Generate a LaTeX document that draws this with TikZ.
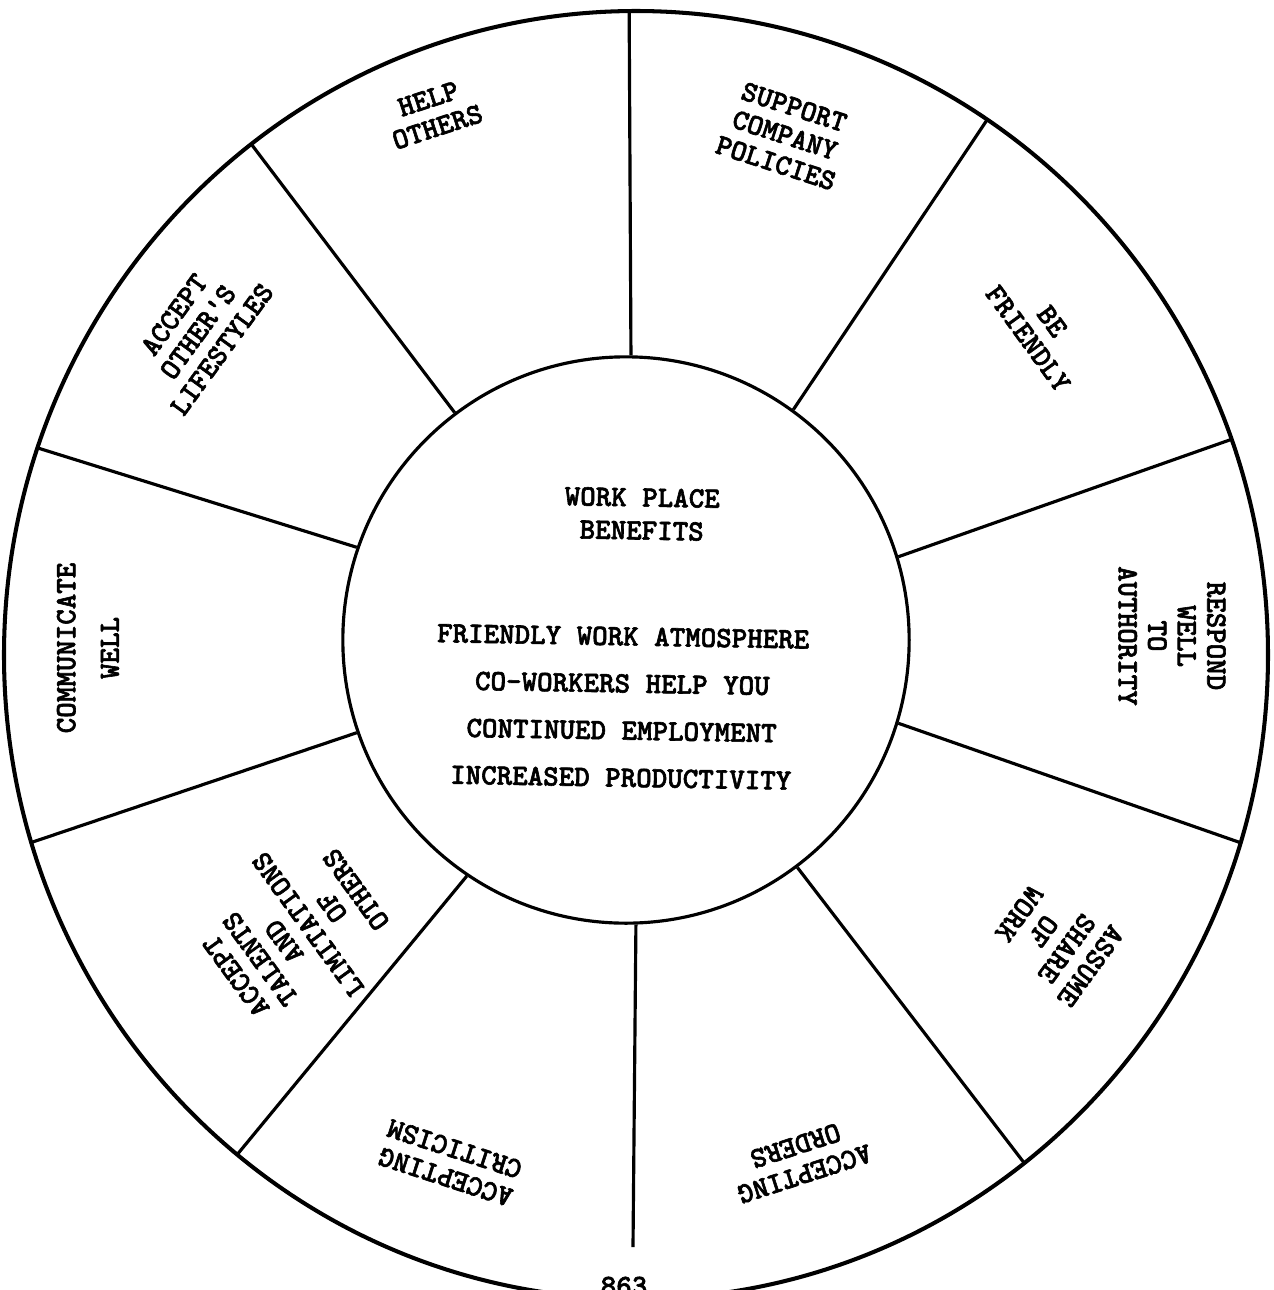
\documentclass[tikz,border=0pt]{standalone}
\usepackage{fontspec}
\newfontfamily\tw{lmmonolt10-bold.otf}[FakeBold=2]
\tikzset{
  rim/.style={line width=1.15pt},
  spoke/.style={line width=0.9pt},
  hub/.style={circle, draw, line width=0.9pt, minimum size=5.66cm, inner sep=0pt},
  lbl/.style={font=\tw\fontsize{8.4}{8.4}\selectfont, align=center, inner sep=0pt},
  headtxt/.style={font=\tw\fontsize{8.4}{9.4}\selectfont, align=center, inner sep=0pt},
  bentxt/.style={font=\tw\fontsize{8.4}{13.4}\selectfont, align=center, inner sep=0pt},
}
\begin{document}
\begin{tikzpicture}[x=0.01cm,y=-0.01cm]
\useasboundingbox (0,0) rectangle (1274,1290);
\clip (0,0) rectangle (1274,1290);

% outer rim of the wheel
\draw[rim] (636,655) ellipse [x radius=632, y radius=644];

% hub
\node[hub] (hub) at (626,640) {};

% far ends of the spokes (cut off by the rim)
\coordinate (o1) at (629,-20);
\coordinate (o2) at (997,105);
\coordinate (o3) at (1258,430);
\coordinate (o4) at (1270,853);
\coordinate (o5) at (1048,1194);
\coordinate (o6) at (633,1247);
\coordinate (o7) at (222,1173);
\coordinate (o8) at (9,850);
\coordinate (o9) at (9,439);
\coordinate (o10) at (230,116);

\begin{scope}
  \clip (636,655) ellipse [x radius=632, y radius=644];
  \draw[spoke] (hub.89.6) -- (o1);
  \draw[spoke] (hub.54.05) -- (o2);
  \draw[spoke] (hub.17.7) -- (o3);
  \draw[spoke] (hub.-17.7) -- (o4);
  \draw[spoke] (hub.-53.6) -- (o5);
  \draw[spoke] (hub.-124.6) -- (o7);
  \draw[spoke] (hub.-161.4) -- (o8);
  \draw[spoke] (hub.161.4) -- (o9);
  \draw[spoke] (hub.127.97) -- (o10);
\end{scope}
\draw[spoke] (hub.-88.4) -- (o6);

% centre text
\node[headtxt, rotate=-1] (title) at (642,514) {WORK PLACE\\BENEFITS};
\node[bentxt, rotate=-1] (benefits) at (622,707)
  {FRIENDLY WORK ATMOSPHERE\\CO-WORKERS HELP YOU\\CONTINUED EMPLOYMENT\\INCREASED PRODUCTIVITY};

% sector labels, letter tops facing outward
\node[lbl, rotate=18] (help) at (433,113) {HELP\\OTHERS};
\node[lbl, rotate=-18] (support) at (785,135) {SUPPORT\\COMPANY\\POLICIES};
\node[lbl, rotate=-54] (friendly) at (1040,330) {BE\\FRIENDLY};
\node[lbl, rotate=-90] (respond) at (1172,636) {RESPOND\\WELL\\TO\\AUTHORITY};
\node[lbl, rotate=-126] (assume) at (1055,940) {ASSUME\\SHARE\\OF\\WORK};
\node[lbl, rotate=-162] (orders) at (800,1160) {ACCEPTING\\ORDERS};
\node[lbl, rotate=162] (criticism) at (450,1163) {ACCEPTING\\CRITICISM};
\node[lbl, rotate=126] (talents) at (296,933) {ACCEPT\\TALENTS\\AND\\LIMITATIONS\\OF\\OTHERS};
\node[lbl, rotate=90] (communicate) at (88,648) {COMMUNICATE\\[4pt]WELL};
\node[lbl, rotate=54] (lifestyles) at (198,332) {ACCEPT\\OTHER\textquotesingle S\\LIFESTYLES};

% page number
\node[lbl, anchor=north] (pageno) at (624,1276) {863};
\end{tikzpicture}
\end{document}
